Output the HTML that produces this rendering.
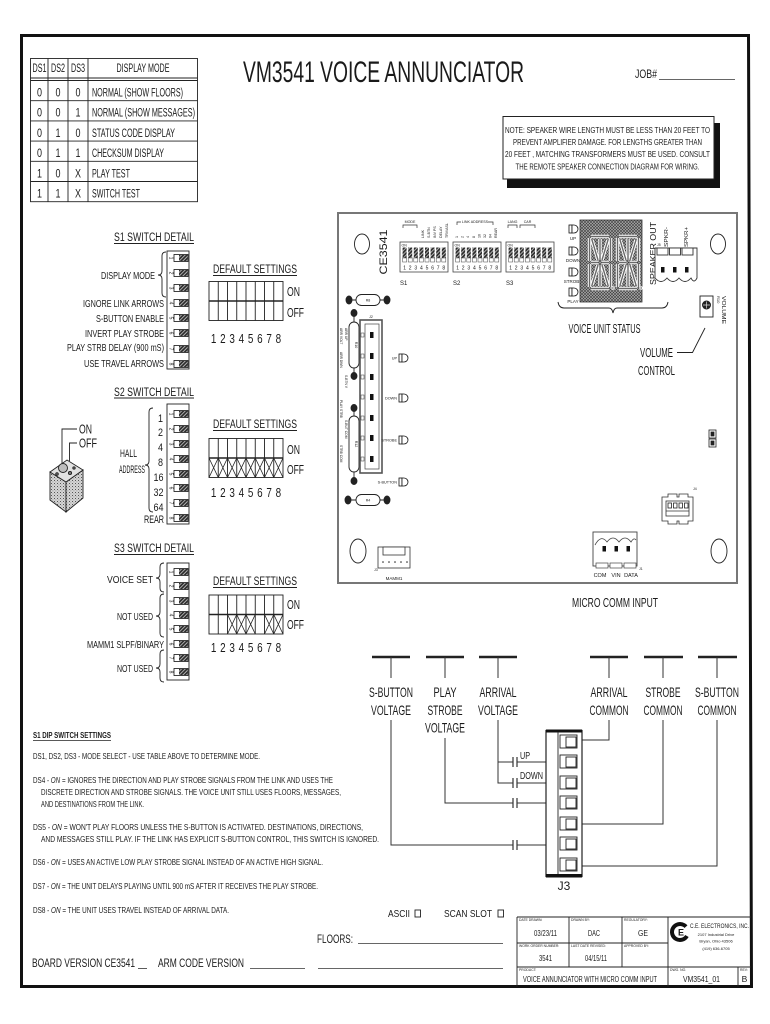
<!DOCTYPE html>
<html><head><meta charset="utf-8"><style>
html,body{margin:0;padding:0;background:#fff;}
svg{display:block;}
text{font-family:"Liberation Sans Narrow","Liberation Sans",Arial,sans-serif;fill:#1a1a1a;}
</style></head><body>
<svg width="770" height="1024" viewBox="0 0 770 1024" xmlns="http://www.w3.org/2000/svg">
<defs>
<pattern id="hatch" width="2.6" height="2.6" patternUnits="userSpaceOnUse" patternTransform="rotate(45)">
 <rect width="2.6" height="2.6" fill="#2a2a2a"/>
 <line x1="0.6" y1="0" x2="0.6" y2="2.6" stroke="#cfcfcf" stroke-width="0.8"/>
</pattern>
<pattern id="stip" width="3" height="3" patternUnits="userSpaceOnUse">
 <rect width="3" height="3" fill="#d4d4d4"/>
 <rect width="1" height="1" fill="#555"/>
 <rect x="1.5" y="1.5" width="0.8" height="0.8" fill="#777"/>
</pattern>
<pattern id="xh" width="3" height="3" patternUnits="userSpaceOnUse">
 <rect width="3" height="3" fill="#a8a8a8"/>
 <path d="M0,0 L3,3 M3,0 L0,3" stroke="#3a3a3a" stroke-width="0.6"/>
</pattern>
<g id="sw"><rect x="0" y="-3.5" width="14" height="7" fill="#fff" stroke="#111" stroke-width="0.8"/><rect x="5" y="-3" width="8.6" height="6" fill="url(#hatch)"/></g>
<g id="led"><rect x="0" y="-4" width="3" height="8" fill="#fff" stroke="#111" stroke-width="0.8"/><path d="M3,-4 h2 a4,4 0 0 1 0,8 h-2 z" fill="#fff" stroke="#111" stroke-width="0.8"/></g>
<g id="grid" fill="none" stroke="#222" stroke-width="0.9">
 <rect x="0" y="0" width="74" height="39"/>
 <path d="M9.25,0V39M18.5,0V39M27.75,0V39M37,0V39M46.25,0V39M55.5,0V39M64.75,0V39"/>
 <path d="M0,19.5H74" stroke-width="1.4"/>
</g>
<g id="nums" font-size="12.5" text-anchor="middle">
 <text x="4.6" y="0" textLength="5.5" lengthAdjust="spacingAndGlyphs">1</text><text x="13.9" y="0" textLength="5.5" lengthAdjust="spacingAndGlyphs">2</text><text x="23.1" y="0" textLength="5.5" lengthAdjust="spacingAndGlyphs">3</text><text x="32.4" y="0" textLength="5.5" lengthAdjust="spacingAndGlyphs">4</text><text x="41.6" y="0" textLength="5.5" lengthAdjust="spacingAndGlyphs">5</text><text x="50.9" y="0" textLength="5.5" lengthAdjust="spacingAndGlyphs">6</text><text x="60.1" y="0" textLength="5.5" lengthAdjust="spacingAndGlyphs">7</text><text x="69.4" y="0" textLength="5.5" lengthAdjust="spacingAndGlyphs">8</text>
</g>
<g id="dip">
 <rect x="0" y="0" width="48" height="30" fill="#fff" stroke="#444" stroke-width="0.8"/>
 <text x="1.5" y="4.5" font-size="3.5">ON</text>
 <g fill="url(#hatch)"><rect x="2.6" y="5.5" width="4" height="10.5"/><rect x="8.2" y="5.5" width="4" height="10.5"/><rect x="13.8" y="5.5" width="4" height="10.5"/><rect x="19.4" y="5.5" width="4" height="10.5"/><rect x="25" y="5.5" width="4" height="10.5"/><rect x="30.6" y="5.5" width="4" height="10.5"/><rect x="36.2" y="5.5" width="4" height="10.5"/><rect x="41.8" y="5.5" width="4" height="10.5"/></g>
 <g fill="#fff" stroke="#444" stroke-width="0.5"><rect x="2.6" y="16" width="4" height="4"/><rect x="8.2" y="16" width="4" height="4"/><rect x="13.8" y="16" width="4" height="4"/><rect x="19.4" y="16" width="4" height="4"/><rect x="25" y="16" width="4" height="4"/><rect x="30.6" y="16" width="4" height="4"/><rect x="36.2" y="16" width="4" height="4"/><rect x="41.8" y="16" width="4" height="4"/></g>
 <g font-size="5" text-anchor="middle"><text x="4.6" y="27.5">1</text><text x="10.2" y="27.5">2</text><text x="15.8" y="27.5">3</text><text x="21.4" y="27.5">4</text><text x="27" y="27.5">5</text><text x="32.6" y="27.5">6</text><text x="38.2" y="27.5">7</text><text x="43.8" y="27.5">8</text></g>
</g>
<path id="segs" d="M3,1.5H21M3,53.5H21M3,27.5H10.5M13.5,27.5H21M1.5,3V26M1.5,29V52M22.5,3V26M22.5,29V52M12,4V25M12,30V51M4,5L10,25M20,5L14,25M4,50L10,30M20,50L14,30"/>
<g id="digit"><use href="#segs" fill="none" stroke="#fff" stroke-width="3.4"/><use href="#segs" fill="none" stroke="#6a6a6a" stroke-width="1.4"/><circle cx="25" cy="53" r="1.3" fill="none" stroke="#fff" stroke-width="0.8"/></g>
</defs>

<!-- page border -->
<polygon points="21.5,35.5 748.5,35.5 751.5,986.5 21.5,986.5" fill="none" stroke="#111" stroke-width="3"/>

<!-- mode table -->
<g stroke="#222" stroke-width="0.9" fill="none">
 <rect x="30.5" y="58.5" width="167" height="143.2"/>
 <path d="M30.5,78H197.5M30.5,80.5H197.5M30.5,100.7H197.5M30.5,120.9H197.5M30.5,141.1H197.5M30.5,161.3H197.5M30.5,181.5H197.5"/>
 <path d="M48,58.5V201.7M68,58.5V201.7M88,58.5V201.7"/>
</g>
<g font-size="11.5">
 <text x="39.5" y="72" text-anchor="middle" textLength="14" lengthAdjust="spacingAndGlyphs">DS1</text>
 <text x="58" y="72" text-anchor="middle" textLength="14" lengthAdjust="spacingAndGlyphs">DS2</text>
 <text x="78" y="72" text-anchor="middle" textLength="14" lengthAdjust="spacingAndGlyphs">DS3</text>
 <text x="143" y="72" text-anchor="middle" textLength="53" lengthAdjust="spacingAndGlyphs">DISPLAY MODE</text>
 <g text-anchor="middle">
  <text x="39.5" y="96.5" textLength="5" lengthAdjust="spacingAndGlyphs">0</text><text x="58" y="96.5" textLength="5" lengthAdjust="spacingAndGlyphs">0</text><text x="78" y="96.5" textLength="5" lengthAdjust="spacingAndGlyphs">0</text>
  <text x="39.5" y="116.7" textLength="5" lengthAdjust="spacingAndGlyphs">0</text><text x="58" y="116.7" textLength="5" lengthAdjust="spacingAndGlyphs">0</text><text x="78" y="116.7" textLength="5" lengthAdjust="spacingAndGlyphs">1</text>
  <text x="39.5" y="136.9" textLength="5" lengthAdjust="spacingAndGlyphs">0</text><text x="58" y="136.9" textLength="5" lengthAdjust="spacingAndGlyphs">1</text><text x="78" y="136.9" textLength="5" lengthAdjust="spacingAndGlyphs">0</text>
  <text x="39.5" y="157.1" textLength="5" lengthAdjust="spacingAndGlyphs">0</text><text x="58" y="157.1" textLength="5" lengthAdjust="spacingAndGlyphs">1</text><text x="78" y="157.1" textLength="5" lengthAdjust="spacingAndGlyphs">1</text>
  <text x="39.5" y="177.3" textLength="5" lengthAdjust="spacingAndGlyphs">1</text><text x="58" y="177.3" textLength="5" lengthAdjust="spacingAndGlyphs">0</text><text x="78" y="177.3" textLength="6" lengthAdjust="spacingAndGlyphs">X</text>
  <text x="39.5" y="197.5" textLength="5" lengthAdjust="spacingAndGlyphs">1</text><text x="58" y="197.5" textLength="5" lengthAdjust="spacingAndGlyphs">1</text><text x="78" y="197.5" textLength="6" lengthAdjust="spacingAndGlyphs">X</text>
 </g>
 <text x="92" y="96.5" textLength="91" lengthAdjust="spacingAndGlyphs">NORMAL (SHOW FLOORS)</text>
 <text x="92" y="116.7" textLength="103" lengthAdjust="spacingAndGlyphs">NORMAL (SHOW MESSAGES)</text>
 <text x="92" y="136.9" textLength="83" lengthAdjust="spacingAndGlyphs">STATUS CODE DISPLAY</text>
 <text x="92" y="157.1" textLength="72" lengthAdjust="spacingAndGlyphs">CHECKSUM DISPLAY</text>
 <text x="92" y="177.3" textLength="38" lengthAdjust="spacingAndGlyphs">PLAY TEST</text>
 <text x="92" y="197.5" textLength="48" lengthAdjust="spacingAndGlyphs">SWITCH TEST</text>
</g>

<!-- title -->
<text x="243" y="82" font-size="30" textLength="281" lengthAdjust="spacingAndGlyphs">VM3541 VOICE ANNUNCIATOR</text>
<text x="635" y="78" font-size="12" textLength="22" lengthAdjust="spacingAndGlyphs">JOB#</text>
<line x1="659" y1="79.5" x2="735" y2="79.5" stroke="#333" stroke-width="0.8"/>

<!-- note -->
<rect x="507" y="123" width="213" height="65" fill="#111"/>
<rect x="503" y="116.5" width="211" height="62.5" fill="#fff" stroke="#222" stroke-width="1"/>
<g font-size="8.3" text-anchor="middle">
 <text x="607.5" y="133" textLength="205" lengthAdjust="spacingAndGlyphs">NOTE: SPEAKER WIRE LENGTH MUST BE LESS THAN 20 FEET TO</text>
 <text x="607.5" y="145" textLength="189" lengthAdjust="spacingAndGlyphs">PREVENT AMPLIFIER DAMAGE. FOR LENGTHS GREATER THAN</text>
 <text x="607.5" y="157" textLength="205" lengthAdjust="spacingAndGlyphs">20 FEET , MATCHING TRANSFORMERS MUST BE USED. CONSULT</text>
 <text x="607.5" y="169.5" textLength="184" lengthAdjust="spacingAndGlyphs">THE REMOTE SPEAKER CONNECTION DIAGRAM FOR WIRING.</text>
</g>

<!-- ================= S1 ================= -->
<text x="114" y="241" font-size="11.5" textLength="80" lengthAdjust="spacingAndGlyphs">S1 SWITCH DETAIL</text>
<line x1="114" y1="243.5" x2="194" y2="243.5" stroke="#222" stroke-width="0.9"/>
<rect x="167" y="251" width="22" height="118" fill="#fff" stroke="#222" stroke-width="0.9"/>
<use href="#sw" x="174" y="258"/><use href="#sw" x="174" y="273"/><use href="#sw" x="174" y="288"/><use href="#sw" x="174" y="303"/><use href="#sw" x="174" y="318"/><use href="#sw" x="174" y="333"/><use href="#sw" x="174" y="349"/><use href="#sw" x="174" y="364"/>
<g font-size="5" text-anchor="middle">
 <text transform="translate(169.5,258) rotate(90)">1</text><text transform="translate(169.5,273) rotate(90)">2</text><text transform="translate(169.5,288) rotate(90)">3</text><text transform="translate(169.5,303) rotate(90)">4</text><text transform="translate(169.5,318) rotate(90)">5</text><text transform="translate(169.5,333) rotate(90)">6</text><text transform="translate(169.5,349) rotate(90)">7</text><text transform="translate(169.5,364) rotate(90)">8</text>
</g>
<path d="M166,252 Q162,252 162,256 L162,271 Q162,275 158,275 Q162,275 162,279 L162,293 Q162,297 166,297" fill="none" stroke="#222" stroke-width="0.9"/>
<g font-size="10.5" text-anchor="end">
 <text x="155" y="279" textLength="54" lengthAdjust="spacingAndGlyphs">DISPLAY MODE</text>
 <text x="164" y="307" textLength="81" lengthAdjust="spacingAndGlyphs">IGNORE LINK ARROWS</text>
 <text x="164" y="322" textLength="68" lengthAdjust="spacingAndGlyphs">S-BUTTON ENABLE</text>
 <text x="164" y="337" textLength="79" lengthAdjust="spacingAndGlyphs">INVERT PLAY STROBE</text>
 <text x="164" y="351" textLength="97" lengthAdjust="spacingAndGlyphs">PLAY STRB DELAY (900 mS)</text>
 <text x="164" y="367" textLength="80" lengthAdjust="spacingAndGlyphs">USE TRAVEL ARROWS</text>
</g>
<text x="213" y="273" font-size="11.5" textLength="84" lengthAdjust="spacingAndGlyphs">DEFAULT SETTINGS</text>
<line x1="213" y1="275.5" x2="297" y2="275.5" stroke="#222" stroke-width="0.9"/>
<use href="#grid" x="209" y="281.5"/>
<text x="287" y="296" font-size="12.5" textLength="13" lengthAdjust="spacingAndGlyphs">ON</text>
<text x="287" y="317" font-size="12.5" textLength="17" lengthAdjust="spacingAndGlyphs">OFF</text>
<use href="#nums" x="209" y="343"/>

<!-- ================= S2 ================= -->
<text x="114" y="396" font-size="11.5" textLength="80" lengthAdjust="spacingAndGlyphs">S2 SWITCH DETAIL</text>
<line x1="114" y1="398" x2="194" y2="398" stroke="#222" stroke-width="0.9"/>
<rect x="167" y="404" width="22" height="120" fill="#fff" stroke="#222" stroke-width="0.9"/>
<use href="#sw" x="174" y="414"/><use href="#sw" x="174" y="429"/><use href="#sw" x="174" y="444"/><use href="#sw" x="174" y="459"/><use href="#sw" x="174" y="474"/><use href="#sw" x="174" y="488"/><use href="#sw" x="174" y="503"/><use href="#sw" x="174" y="518"/>
<g font-size="5" text-anchor="middle">
 <text transform="translate(169.5,414) rotate(90)">1</text><text transform="translate(169.5,429) rotate(90)">2</text><text transform="translate(169.5,444) rotate(90)">3</text><text transform="translate(169.5,459) rotate(90)">4</text><text transform="translate(169.5,474) rotate(90)">5</text><text transform="translate(169.5,488) rotate(90)">6</text><text transform="translate(169.5,503) rotate(90)">7</text><text transform="translate(169.5,518) rotate(90)">8</text>
</g>
<path d="M153,408 Q149,408 149,412 L149,461 Q149,465 145,465 Q149,465 149,469 L149,508 Q149,512 153,512" fill="none" stroke="#222" stroke-width="0.9"/>
<g font-size="11" text-anchor="end">
 <text x="163" y="422" textLength="5" lengthAdjust="spacingAndGlyphs">1</text><text x="163" y="436" textLength="5" lengthAdjust="spacingAndGlyphs">2</text><text x="163" y="451" textLength="5" lengthAdjust="spacingAndGlyphs">4</text><text x="163" y="466" textLength="5" lengthAdjust="spacingAndGlyphs">8</text><text x="163.5" y="481" textLength="10" lengthAdjust="spacingAndGlyphs">16</text><text x="163.5" y="496" textLength="10" lengthAdjust="spacingAndGlyphs">32</text><text x="163.5" y="511" textLength="10" lengthAdjust="spacingAndGlyphs">64</text>
 <text x="164" y="523" textLength="20" lengthAdjust="spacingAndGlyphs">REAR</text>
</g>
<text x="120" y="457" font-size="11" textLength="17" lengthAdjust="spacingAndGlyphs">HALL</text>
<text x="119" y="473" font-size="11" textLength="26" lengthAdjust="spacingAndGlyphs">ADDRESS</text>
<!-- cube -->
<g stroke="#222" stroke-width="0.9">
 <polygon points="50,472 66,482 66,512 50,500" fill="url(#stip)"/>
 <polygon points="66,482 83,470 83,498 66,512" fill="url(#stip)"/>
 <polygon points="50,472 67,460 83,470 66,482" fill="#e2e2e2"/>
 <circle cx="63" cy="468" r="4.5" fill="#bdbdbd"/>
 <circle cx="70" cy="473" r="1.6" fill="#777"/>
 <circle cx="57" cy="474" r="1.3" fill="#777"/>
 <circle cx="74" cy="468" r="1.2" fill="#777"/>
</g>
<path d="M77,429 H62 V464 M77,443 H69.5 V461" fill="none" stroke="#222" stroke-width="0.9"/>
<text x="79" y="433.5" font-size="12.5" textLength="13" lengthAdjust="spacingAndGlyphs">ON</text>
<text x="79" y="447.5" font-size="12.5" textLength="18" lengthAdjust="spacingAndGlyphs">OFF</text>
<text x="213" y="428" font-size="11.5" textLength="84" lengthAdjust="spacingAndGlyphs">DEFAULT SETTINGS</text>
<line x1="213" y1="430.5" x2="297" y2="430.5" stroke="#222" stroke-width="0.9"/>
<use href="#grid" x="209" y="438.5"/>
<path d="M209,458 L218.25,477.5 M218.25,458 L209,477.5 M218.25,458 L227.5,477.5 M227.5,458 L218.25,477.5 M227.5,458 L236.75,477.5 M236.75,458 L227.5,477.5 M236.75,458 L246,477.5 M246,458 L236.75,477.5 M246,458 L255.25,477.5 M255.25,458 L246,477.5 M255.25,458 L264.5,477.5 M264.5,458 L255.25,477.5 M264.5,458 L273.75,477.5 M273.75,458 L264.5,477.5 M273.75,458 L283,477.5 M283,458 L273.75,477.5" stroke="#222" stroke-width="0.8" fill="none"/>
<text x="287" y="454" font-size="12.5" textLength="13" lengthAdjust="spacingAndGlyphs">ON</text>
<text x="287" y="474" font-size="12.5" textLength="17" lengthAdjust="spacingAndGlyphs">OFF</text>
<use href="#nums" x="209" y="497"/>

<!-- ================= S3 ================= -->
<text x="114" y="552" font-size="11.5" textLength="80" lengthAdjust="spacingAndGlyphs">S3 SWITCH DETAIL</text>
<line x1="114" y1="554.5" x2="194" y2="554.5" stroke="#222" stroke-width="0.9"/>
<rect x="167" y="563" width="22" height="117" fill="#fff" stroke="#222" stroke-width="0.9"/>
<use href="#sw" x="174" y="572"/><use href="#sw" x="174" y="586"/><use href="#sw" x="174" y="601"/><use href="#sw" x="174" y="615"/><use href="#sw" x="174" y="629"/><use href="#sw" x="174" y="644"/><use href="#sw" x="174" y="658"/><use href="#sw" x="174" y="672"/>
<g font-size="5" text-anchor="middle">
 <text transform="translate(169.5,572) rotate(90)">1</text><text transform="translate(169.5,586) rotate(90)">2</text><text transform="translate(169.5,601) rotate(90)">3</text><text transform="translate(169.5,615) rotate(90)">4</text><text transform="translate(169.5,629) rotate(90)">5</text><text transform="translate(169.5,644) rotate(90)">6</text><text transform="translate(169.5,658) rotate(90)">7</text><text transform="translate(169.5,672) rotate(90)">8</text>
</g>
<g fill="none" stroke="#222" stroke-width="0.9">
 <path d="M164,563 Q160,563 160,567 L160,574 Q160,578 156,578 Q160,578 160,582 L160,588 Q160,592 164,592"/>
 <path d="M164,594 Q160,594 160,598 L160,612 Q160,616 156,616 Q160,616 160,620 L160,633 Q160,637 164,637"/>
 <path d="M164,650 Q160,650 160,654 L160,664 Q160,668 156,668 Q160,668 160,672 L160,678 Q160,682 164,682"/>
</g>
<g font-size="10.5" text-anchor="end">
 <text x="153" y="583" textLength="46" lengthAdjust="spacingAndGlyphs">VOICE SET</text>
 <text x="153" y="620" textLength="36" lengthAdjust="spacingAndGlyphs">NOT USED</text>
 <text x="164" y="648" textLength="77" lengthAdjust="spacingAndGlyphs">MAMM1 SLPF/BINARY</text>
 <text x="153" y="672" textLength="36" lengthAdjust="spacingAndGlyphs">NOT USED</text>
</g>
<text x="213" y="585" font-size="11.5" textLength="84" lengthAdjust="spacingAndGlyphs">DEFAULT SETTINGS</text>
<line x1="213" y1="587.5" x2="297" y2="587.5" stroke="#222" stroke-width="0.9"/>
<use href="#grid" x="209" y="595"/>
<path d="M227.5,614.5 L236.75,634 M236.75,614.5 L227.5,634 M236.75,614.5 L246,634 M246,614.5 L236.75,634 M246,614.5 L255.25,634 M255.25,614.5 L246,634 M264.5,614.5 L273.75,634 M273.75,614.5 L264.5,634 M273.75,614.5 L283,634 M283,614.5 L273.75,634" stroke="#222" stroke-width="0.8" fill="none"/>
<text x="287" y="609" font-size="12.5" textLength="13" lengthAdjust="spacingAndGlyphs">ON</text>
<text x="287" y="629" font-size="12.5" textLength="17" lengthAdjust="spacingAndGlyphs">OFF</text>
<use href="#nums" x="209" y="652"/>

<!-- ================= BOARD ================= -->
<rect x="338" y="213" width="399" height="370" fill="#fff" stroke="#777" stroke-width="2"/>
<g fill="#fff" stroke="#222" stroke-width="0.9">
 <ellipse cx="362" cy="244" rx="7.5" ry="10"/>
 <ellipse cx="718" cy="244" rx="7.5" ry="10"/>
 <ellipse cx="358" cy="551" rx="8" ry="12"/>
 <ellipse cx="719" cy="551" rx="8" ry="12"/>
</g>
<text transform="translate(387,252) rotate(-90)" font-size="11" text-anchor="middle" textLength="45" lengthAdjust="spacingAndGlyphs">CE3541</text>

<use href="#dip" x="400" y="242"/>
<use href="#dip" x="453" y="242"/>
<use href="#dip" x="506" y="242"/>
<g font-size="6"><text x="400" y="285">S1</text><text x="453" y="285">S2</text><text x="506" y="285">S3</text></g>
<g fill="none" stroke="#333" stroke-width="0.7">
 <path d="M403,228 V225 H417 V228"/>
 <path d="M457,225 V222 H461 M488,222 H493 V225"/>
 <path d="M508,228 V225 H517 V228"/>
 <path d="M520,228 V225 H535 V228"/>
</g>
<g font-size="3.6">
 <text x="410" y="223" text-anchor="middle">MODE</text>
 <text x="475" y="223" text-anchor="middle">LINK ADDRESS</text>
 <text x="512.5" y="223" text-anchor="middle">LANG</text>
 <text x="527.5" y="223" text-anchor="middle">CAR</text>
 <text transform="translate(424,238) rotate(-90)">LINK</text>
 <text transform="translate(430,238) rotate(-90)">S-BTN</text>
 <text transform="translate(436,238) rotate(-90)">INV PS</text>
 <text transform="translate(442,238) rotate(-90)">DELAY</text>
 <text transform="translate(448,238) rotate(-90)">TRV/ASL</text>
 <text transform="translate(458,238) rotate(-90)">1</text>
 <text transform="translate(463.6,238) rotate(-90)">2</text>
 <text transform="translate(469.2,238) rotate(-90)">4</text>
 <text transform="translate(474.8,238) rotate(-90)">8</text>
 <text transform="translate(480.4,238) rotate(-90)">16</text>
 <text transform="translate(486,238) rotate(-90)">32</text>
 <text transform="translate(491.6,238) rotate(-90)">64</text>
 <text transform="translate(497.2,238) rotate(-90)">REAR</text>
</g>

<!-- status LEDs -->
<use href="#led" x="569" y="229"/><use href="#led" x="569" y="251"/><use href="#led" x="569" y="272"/><use href="#led" x="569" y="292"/>
<g font-size="4.5" text-anchor="middle"><text x="573" y="240">UP</text><text x="573" y="262">DOWN</text><text x="573" y="283">STROBE</text><text x="573" y="303">PLAY</text></g>
<!-- display -->
<rect x="580" y="220" width="62" height="82" fill="url(#xh)" stroke="#333" stroke-width="0.8"/>
<use href="#digit" x="588" y="235"/>
<use href="#digit" x="616" y="235"/>
<path d="M558,302 Q559,308 564,308 L609,308 Q612,308 613,313 Q614,308 617,308 L662,308 Q667,308 668,302" fill="none" stroke="#222" stroke-width="0.9"/>
<text x="604.5" y="333" font-size="12.5" text-anchor="middle" textLength="72" lengthAdjust="spacingAndGlyphs">VOICE UNIT STATUS</text>

<!-- speaker out -->
<text transform="translate(656,285) rotate(-90)" font-size="8" textLength="63" lengthAdjust="spacingAndGlyphs">SPEAKER OUT</text>
<text transform="translate(668,247) rotate(-90)" font-size="5.5" textLength="20" lengthAdjust="spacingAndGlyphs">SPKR-</text>
<text transform="translate(688,247) rotate(-90)" font-size="5.5" textLength="20" lengthAdjust="spacingAndGlyphs">SPKR+</text>
<text x="657" y="246" font-size="3.5">J5</text>
<g stroke="#333" stroke-width="0.9" fill="#fff">
 <path d="M655,248 H697 V278 Q694,284 691,278 Q685,285 679,278 Q673,285 667,278 Q661,285 655,278 Z"/>
 <rect x="657" y="248" width="11" height="7"/><rect x="669.5" y="248" width="11" height="7"/><rect x="682" y="248" width="11" height="7"/>
</g>
<g fill="#111"><rect x="661" y="267" width="3.5" height="5.5"/><rect x="673" y="267" width="3.5" height="5.5"/><rect x="685" y="267" width="3.5" height="5.5"/></g>

<!-- volume -->
<rect x="700" y="296" width="13" height="21" fill="#fff" stroke="#222" stroke-width="0.9"/>
<circle cx="706.5" cy="305" r="4.5" fill="#222"/>
<path d="M703,305h7M706.5,301.5v7" stroke="#ddd" stroke-width="0.7"/>
<text transform="translate(717,296) rotate(90)" font-size="4">R10</text>
<text transform="translate(722,296) rotate(90)" font-size="5.5" textLength="28" lengthAdjust="spacingAndGlyphs">VOLUME</text>
<path d="M705,328 L692.5,352.5 H677" fill="none" stroke="#222" stroke-width="0.9"/>
<text x="656.5" y="357" font-size="12.5" text-anchor="middle" textLength="33" lengthAdjust="spacingAndGlyphs">VOLUME</text>
<text x="656.5" y="375" font-size="12.5" text-anchor="middle" textLength="37" lengthAdjust="spacingAndGlyphs">CONTROL</text>

<!-- left side components -->
<g stroke="#222" stroke-width="0.9">
 <line x1="349" y1="300" x2="387" y2="300"/>
 <ellipse cx="349" cy="300" rx="3" ry="4" fill="#222"/>
 <ellipse cx="387" cy="300" rx="3" ry="4" fill="#222"/>
 <rect x="356" y="294.5" width="24" height="11" rx="5.5" fill="#fff"/>
 <line x1="348" y1="500" x2="387" y2="500"/>
 <ellipse cx="348" cy="500" rx="3" ry="4" fill="#222"/>
 <ellipse cx="387" cy="500" rx="3" ry="4" fill="#222"/>
 <rect x="356" y="494.5" width="24" height="11" rx="5.5" fill="#fff"/>
 <line x1="354" y1="313" x2="354" y2="376"/>
 <ellipse cx="354" cy="313" rx="3" ry="3.5" fill="#222"/>
 <ellipse cx="354" cy="376" rx="3" ry="3.5" fill="#222"/>
 <rect x="349" y="322" width="10" height="46" rx="5" fill="#fff"/>
 <line x1="354" y1="408" x2="354" y2="481"/>
 <ellipse cx="354" cy="408" rx="3" ry="3.5" fill="#222"/>
 <ellipse cx="354" cy="481" rx="3" ry="3.5" fill="#222"/>
 <rect x="349" y="416" width="10" height="56" rx="5" fill="#fff"/>
</g>
<g font-size="3.6" text-anchor="middle">
 <text x="368" y="301.5">R8</text><text x="368" y="501.5">R4</text>
 <text transform="translate(355,345) rotate(90)">R10</text>
 <text transform="translate(355,444) rotate(90)">R12</text>
</g>
<g font-size="3.3">
 <text transform="translate(340,328) rotate(90)">ARR VOLT</text>
 <text transform="translate(345,328) rotate(90)">ARR UP</text>
 <text transform="translate(340,352) rotate(90)">ARR DWN</text>
 <text transform="translate(345,375) rotate(90)">S-BTN V</text>
 <text transform="translate(340,400) rotate(90)">PLAY STRB</text>
 <text transform="translate(345,420) rotate(90)">S-BUT COM</text>
 <text transform="translate(340,445) rotate(90)">STRB COM</text>
</g>
<!-- J2 -->
<rect x="360" y="320" width="22" height="153" fill="#fff" stroke="#555" stroke-width="1.6"/>
<rect x="365" y="324" width="14" height="145" fill="#fff" stroke="#444" stroke-width="0.7"/>
<text x="371" y="318" font-size="3.6" text-anchor="middle">J2</text>
<g fill="#111"><rect x="370" y="332" width="3.5" height="6"/><rect x="370" y="353" width="3.5" height="6"/><rect x="370" y="374" width="3.5" height="6"/><rect x="370" y="394" width="3.5" height="6"/><rect x="370" y="415" width="3.5" height="6"/><rect x="370" y="435" width="3.5" height="6"/><rect x="370" y="456" width="3.5" height="6"/></g>
<g fill="#fff" stroke="#333" stroke-width="0.5"><rect x="361" y="333" width="3" height="4"/><rect x="361" y="354" width="3" height="4"/><rect x="361" y="375" width="3" height="4"/><rect x="361" y="395" width="3" height="4"/><rect x="361" y="416" width="3" height="4"/><rect x="361" y="436" width="3" height="4"/><rect x="361" y="457" width="3" height="4"/></g>
<!-- left LEDs -->
<use href="#led" x="399" y="358"/><use href="#led" x="399" y="398"/><use href="#led" x="399" y="440"/><use href="#led" x="399" y="482"/>
<g font-size="3.8" text-anchor="end"><text x="397" y="359.5">UP</text><text x="397" y="399.5">DOWN</text><text x="397" y="441.5">STROBE</text><text x="397" y="483.5">S-BUTTON</text></g>

<!-- J4 -->
<g stroke="#333" stroke-width="0.8" fill="#fff">
 <path d="M662,497 H668 V494 H677 V497 H679 V494 H688 V497 H693 V521 H688 V524 H679 V521 H677 V524 H668 V521 H662 Z"/>
 <rect x="666" y="501" width="23" height="15"/>
 <line x1="666" y1="511" x2="689" y2="511"/>
</g>
<g fill="#fff" stroke="#222" stroke-width="0.8"><rect x="668" y="503" width="3.5" height="5"/><rect x="673.5" y="503" width="3.5" height="5"/><rect x="679" y="503" width="3.5" height="5"/><rect x="684.5" y="503" width="3.5" height="5"/></g>
<text x="693" y="490" font-size="3.5">J4</text>
<g fill="#fff" stroke="#222" stroke-width="0.8"><rect x="709" y="430" width="7" height="8"/><rect x="709" y="439" width="7" height="8"/><rect x="711" y="432" width="3" height="4" fill="#222"/><rect x="711" y="441" width="3" height="4" fill="#222"/></g>

<!-- MAMM1 -->
<rect x="378" y="547" width="32" height="21" fill="#fff" stroke="#333" stroke-width="0.8"/>
<rect x="383" y="547" width="22" height="8" fill="#fff" stroke="#333" stroke-width="0.8"/>
<g fill="#222"><circle cx="383" cy="562" r="0.8"/><circle cx="389" cy="562" r="0.8"/><circle cx="395" cy="562" r="0.8"/><circle cx="401" cy="562" r="0.8"/><circle cx="407" cy="562" r="0.8"/></g>
<text x="394" y="580" font-size="4.5" text-anchor="middle">MAMM1</text>
<text x="374" y="571" font-size="3.5">J3</text>

<!-- J1 -->
<rect x="593" y="532" width="44" height="34" fill="#fff" stroke="#444" stroke-width="0.9"/>
<path d="M595,545 Q601,534 607,542 Q613,534 619,542 Q625,534 631,542 Q634,537 636,540" fill="none" stroke="#444" stroke-width="0.8"/>
<g fill="#111"><rect x="602.5" y="546" width="3.5" height="5.5"/><rect x="614.5" y="546" width="3.5" height="5.5"/><rect x="626.5" y="546" width="3.5" height="5.5"/></g>
<g fill="#fff" stroke="#444" stroke-width="0.7"><rect x="596" y="563" width="12" height="5"/><rect x="610" y="563" width="12" height="5"/><rect x="624" y="563" width="12" height="5"/></g>
<g font-size="5.5" text-anchor="middle"><text x="600" y="577">COM</text><text x="616" y="577">VIN</text><text x="631" y="577">DATA</text></g>
<text x="639" y="570" font-size="3.5">J1</text>

<text x="615" y="607" font-size="13" text-anchor="middle" textLength="86" lengthAdjust="spacingAndGlyphs">MICRO COMM INPUT</text>

<!-- ================= WIRING ================= -->
<g stroke="#222" stroke-width="2.5">
 <path d="M372,657H410M426,657H464M479,657H517M590,657H628M644,657H683M698,657H737"/>
</g>
<g stroke="#333" stroke-width="1" fill="none">
 <path d="M391,657V678M445,657V678M498,657V678M609,657V678M663,657V678M717,657V678"/>
 <path d="M391,720V845H512.5M517.5,845H546"/>
 <path d="M445,738V803H512.5M517.5,803H546"/>
 <path d="M498,720V783H512.5M517.5,783H546"/>
 <path d="M498,762H512.5M517.5,762H546"/>
 <path d="M609,720V740H582"/>
 <path d="M663,720V824H582"/>
 <path d="M717,720V866H582"/>
 <path d="M513,757V767M517,757V767M513,778V788M517,778V788M513,798V808M517,798V808M513,840V850M517,840V850" stroke-width="1.2"/>
</g>
<g font-size="14" text-anchor="middle">
 <text x="391" y="697" textLength="44" lengthAdjust="spacingAndGlyphs">S-BUTTON</text>
 <text x="391" y="715" textLength="40" lengthAdjust="spacingAndGlyphs">VOLTAGE</text>
 <text x="445" y="697" textLength="23" lengthAdjust="spacingAndGlyphs">PLAY</text>
 <text x="445" y="715" textLength="35" lengthAdjust="spacingAndGlyphs">STROBE</text>
 <text x="445" y="732.5" textLength="40" lengthAdjust="spacingAndGlyphs">VOLTAGE</text>
 <text x="498" y="697" textLength="37" lengthAdjust="spacingAndGlyphs">ARRIVAL</text>
 <text x="498" y="715" textLength="40" lengthAdjust="spacingAndGlyphs">VOLTAGE</text>
 <text x="609" y="697" textLength="37" lengthAdjust="spacingAndGlyphs">ARRIVAL</text>
 <text x="609" y="715" textLength="39" lengthAdjust="spacingAndGlyphs">COMMON</text>
 <text x="663" y="697" textLength="35" lengthAdjust="spacingAndGlyphs">STROBE</text>
 <text x="663" y="715" textLength="39" lengthAdjust="spacingAndGlyphs">COMMON</text>
 <text x="717" y="697" textLength="44" lengthAdjust="spacingAndGlyphs">S-BUTTON</text>
 <text x="717" y="715" textLength="39" lengthAdjust="spacingAndGlyphs">COMMON</text>
</g>
<text x="520" y="759" font-size="10" textLength="10" lengthAdjust="spacingAndGlyphs">UP</text>
<text x="520" y="779" font-size="10" textLength="23" lengthAdjust="spacingAndGlyphs">DOWN</text>
<!-- J3 terminal -->
<rect x="546" y="730.5" width="36" height="146" fill="#fff" stroke="#222" stroke-width="1.2"/>
<rect x="546" y="729.5" width="36" height="3" fill="#111"/>
<rect x="546" y="874" width="36" height="3.5" fill="#111"/>
<line x1="558" y1="732" x2="558" y2="874" stroke="#222" stroke-width="0.9"/>
<g fill="#fff" stroke="#222" stroke-width="0.9">
 <rect x="560" y="735" width="17" height="13"/><rect x="566" y="737" width="10" height="10"/>
 <rect x="560" y="755" width="17" height="13"/><rect x="566" y="757" width="10" height="10"/>
 <rect x="560" y="776" width="17" height="13"/><rect x="566" y="778" width="10" height="10"/>
 <rect x="560" y="796" width="17" height="13"/><rect x="566" y="798" width="10" height="10"/>
 <rect x="560" y="817" width="17" height="13"/><rect x="566" y="819" width="10" height="10"/>
 <rect x="560" y="837" width="17" height="13"/><rect x="566" y="839" width="10" height="10"/>
 <rect x="560" y="858" width="17" height="13"/><rect x="566" y="860" width="10" height="10"/>
</g>
<text x="564" y="890" font-size="12" text-anchor="middle">J3</text>

<!-- ================= NOTES ================= -->
<text x="33" y="738" font-size="8" font-weight="bold" textLength="78" lengthAdjust="spacingAndGlyphs">S1 DIP SWITCH SETTINGS</text>
<line x1="33" y1="740.5" x2="111" y2="740.5" stroke="#222" stroke-width="0.8"/>
<g font-size="8.3">
 <text x="33" y="759" textLength="227" lengthAdjust="spacingAndGlyphs">DS1, DS2, DS3 - MODE SELECT - USE TABLE ABOVE TO DETERMINE MODE.</text>
 <text x="33" y="783" textLength="300" lengthAdjust="spacingAndGlyphs">DS4 - <tspan font-style="italic">ON</tspan> = IGNORES THE DIRECTION AND PLAY STROBE SIGNALS FROM THE LINK AND USES THE</text>
 <text x="41" y="795" textLength="300" lengthAdjust="spacingAndGlyphs">DISCRETE DIRECTION AND STROBE SIGNALS.  THE VOICE UNIT STILL USES FLOORS, MESSAGES,</text>
 <text x="41" y="807" textLength="103" lengthAdjust="spacingAndGlyphs">AND DESTINATIONS FROM THE LINK.</text>
 <text x="33" y="830" textLength="330" lengthAdjust="spacingAndGlyphs">DS5 - <tspan font-style="italic">ON</tspan> = WON'T PLAY FLOORS UNLESS THE S-BUTTON IS ACTIVATED.  DESTINATIONS, DIRECTIONS,</text>
 <text x="41" y="842" textLength="338" lengthAdjust="spacingAndGlyphs">AND MESSAGES STILL PLAY. IF THE LINK HAS EXPLICIT S-BUTTON CONTROL, THIS SWITCH IS IGNORED.</text>
 <text x="33" y="865" textLength="290" lengthAdjust="spacingAndGlyphs">DS6 - <tspan font-style="italic">ON</tspan> = USES AN ACTIVE LOW PLAY STROBE SIGNAL INSTEAD OF AN ACTIVE HIGH SIGNAL.</text>
 <text x="33" y="889" textLength="285" lengthAdjust="spacingAndGlyphs">DS7 - <tspan font-style="italic">ON</tspan> = THE UNIT DELAYS PLAYING UNTIL 900 mS AFTER IT RECEIVES THE PLAY STROBE.</text>
 <text x="33" y="913" textLength="196" lengthAdjust="spacingAndGlyphs">DS8 - <tspan font-style="italic">ON</tspan> = THE UNIT USES TRAVEL INSTEAD OF ARRIVAL DATA.</text>
</g>

<!-- bottom fields -->
<text x="388" y="917" font-size="10.5" textLength="22" lengthAdjust="spacingAndGlyphs">ASCII</text>
<rect x="415" y="910" width="5.5" height="7" fill="none" stroke="#222" stroke-width="0.9"/>
<text x="444" y="917" font-size="10.5" textLength="48" lengthAdjust="spacingAndGlyphs">SCAN SLOT</text>
<rect x="498" y="910" width="5.5" height="7" fill="none" stroke="#222" stroke-width="0.9"/>
<text x="317" y="943" font-size="12" textLength="36" lengthAdjust="spacingAndGlyphs">FLOORS:</text>
<line x1="358" y1="943.5" x2="503" y2="943.5" stroke="#333" stroke-width="0.8"/>
<text x="32" y="967" font-size="12" textLength="103" lengthAdjust="spacingAndGlyphs">BOARD VERSION CE3541</text>
<line x1="138" y1="968.5" x2="147" y2="968.5" stroke="#333" stroke-width="0.8"/>
<text x="158" y="967" font-size="12" textLength="86" lengthAdjust="spacingAndGlyphs">ARM CODE VERSION</text>
<line x1="250" y1="968.5" x2="305" y2="968.5" stroke="#333" stroke-width="0.8"/>
<line x1="318" y1="968.5" x2="503" y2="968.5" stroke="#333" stroke-width="0.8"/>

<!-- title block -->
<g stroke="#222" stroke-width="0.9" fill="none">
 <path d="M517,917H751M517,943H668M517,967H751M517,917V987M569,917V967M622,917V967M668,917V987M738,967V987"/>
</g>
<g font-size="3.4" fill="#333">
 <text x="519" y="921">DATE DRAWN:</text><text x="571" y="921">DRAWN BY:</text><text x="624" y="921">REGULATORY:</text>
 <text x="519" y="947">WORK ORDER NUMBER:</text><text x="571" y="947">LAST DATE REVISED:</text><text x="624" y="947">APPROVED BY:</text>
 <text x="519" y="971">PRODUCT:</text><text x="670" y="971">DWG. NO.</text><text x="740" y="971">REV:</text>
</g>
<g font-size="8.5" text-anchor="middle">
 <text x="545.5" y="936" textLength="23" lengthAdjust="spacingAndGlyphs">03/23/11</text>
 <text x="594" y="936" textLength="12" lengthAdjust="spacingAndGlyphs">DAC</text>
 <text x="643" y="936" textLength="10" lengthAdjust="spacingAndGlyphs">GE</text>
 <text x="545.5" y="961" textLength="13" lengthAdjust="spacingAndGlyphs">3541</text>
 <text x="596" y="961" textLength="22" lengthAdjust="spacingAndGlyphs">04/15/11</text>
 <text x="590" y="982" textLength="134" lengthAdjust="spacingAndGlyphs">VOICE ANNUNCIATOR WITH MICRO COMM INPUT</text>
 <text x="701.5" y="982" textLength="37" lengthAdjust="spacingAndGlyphs">VM3541_01</text>
 <text x="744.5" y="982">B</text>
</g>
<circle cx="680" cy="932" r="8" fill="none" stroke="#111" stroke-width="4" stroke-dasharray="40 10.3" transform="rotate(30 680 932)"/>
<text x="681" y="935.5" font-size="9" font-weight="bold" text-anchor="middle">E</text>
<text x="690" y="928" font-size="6" textLength="59" lengthAdjust="spacingAndGlyphs">C.E. ELECTRONICS, INC.</text>
<g font-size="4" text-anchor="middle">
 <text x="716" y="936">2107 Industrial Drive</text>
 <text x="716" y="942.5">Bryan, Ohio 43506</text>
 <text x="716" y="950">(419) 636-6705</text>
</g>
</svg>
</body></html>
